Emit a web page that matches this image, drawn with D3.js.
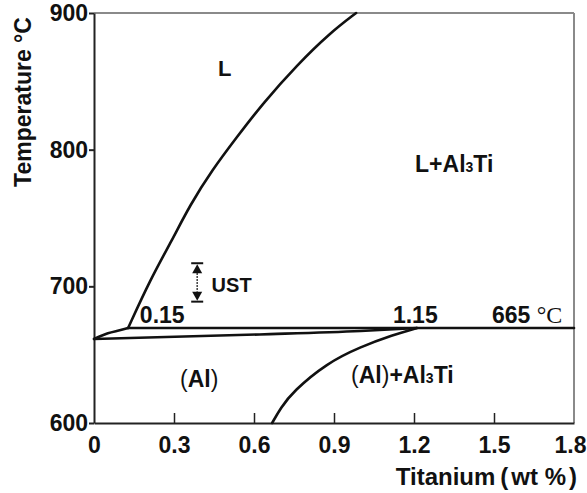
<!DOCTYPE html>
<html>
<head>
<meta charset="utf-8">
<script src="https://cdn.jsdelivr.net/npm/d3@7"></script>
<style>
  body { margin: 0; background: #fff; }
  text { font-family: "Liberation Sans", Arial, sans-serif; font-weight: bold; fill: #111; }
</style>
</head>
<body>
<svg id="chart" width="587" height="493"></svg>
<script>
// Phase boundaries: [Ti wt %, temperature °C]
const liquidus = [
  [0.128, 669.5], [0.21, 704.6], [0.293, 733.9], [0.36, 759.5], [0.443, 785.1],
  [0.533, 808.5], [0.634, 834.1], [0.761, 861.9], [0.885, 885.4], [0.983, 900],
];
const liquidusLow = [[0, 661.5], [0.052, 665.6], [0.1, 668.0], [0.128, 669.5]];
const solidus = [[0, 661.5], [0.62, 664.8], [1.0, 667.3], [1.211, 669.5]];
const solvus = [
  [0.668, 600], [0.7, 611], [0.746, 623], [0.874, 643.9], [0.998, 655.6], [1.121, 664.4], [1.211, 669.5],
];
const peritectic = [[0.128, 669.5], [1.8, 669.5]];

const xTicks = [0, 0.3, 0.6, 0.9, 1.2, 1.5, 1.8];
const yTicks = [600, 700, 800, 900];

// UST range marker: x, top temp, bottom temp
const ust = [0.387, 716.9, 688.8];

const margin = { top: 13, right: 13, bottom: 70, left: 94 };
const width = 587 - margin.left - margin.right;
const height = 493 - margin.top - margin.bottom;

const svg = d3.select("#chart");
const root = svg.append("g").attr("transform", `translate(${margin.left},${margin.top})`);

const x = d3.scaleLinear().domain([0, 1.8]).range([0, width]);
const y = d3.scaleLinear().domain([600, 900]).range([height, 0]);

// Frame: top/right grey, left/bottom dark
root.append("line").attr("x1", 0).attr("x2", width).attr("y1", 0).attr("y2", 0)
  .attr("stroke", "#8a8a8a").attr("stroke-width", 2);
root.append("line").attr("x1", width).attr("x2", width).attr("y1", 0).attr("y2", height)
  .attr("stroke", "#8a8a8a").attr("stroke-width", 2);

// Y axis, ticks outside
const yAxis = root.append("g").call(d3.axisLeft(y).tickValues(yTicks).tickSize(5).tickSizeOuter(0).tickPadding(1));
yAxis.select(".domain").attr("stroke", "#222").attr("stroke-width", 2);
yAxis.selectAll(".tick line").attr("stroke", "#222").attr("stroke-width", 2);
yAxis.selectAll(".tick text").attr("font-size", 23).attr("font-family", null).attr("fill", "#111");

// X axis, ticks inside
const xAxis = root.append("g").attr("transform", `translate(0,${height})`)
  .call(d3.axisBottom(x).tickValues(xTicks).tickSize(-10).tickSizeOuter(0).tickPadding(14)
    .tickFormat((d) => (d === 0 ? "0" : d3.format(".1f")(d))));
xAxis.select(".domain").attr("stroke", "#222").attr("stroke-width", 2);
xAxis.selectAll(".tick line").attr("stroke", "#222").attr("stroke-width", 1.5)
  .attr("opacity", (d) => (d === 0 || d === 1.8 ? 0 : 1));
xAxis.selectAll(".tick text").attr("font-size", 23).attr("font-family", null)
  .attr("fill", (d) => (d === 0 ? "#3f4a57" : "#111"));
// last label sits at the window edge; keep it inside
xAxis.selectAll(".tick text").filter((d) => d === 1.8).attr("text-anchor", "end").attr("x", 12);

// Axis titles
svg.append("text")
  .attr("transform", "translate(31,102) rotate(-90)")
  .attr("text-anchor", "middle")
  .attr("font-size", 23)
  .text("Temperature °C");
const xt = svg.append("text")
  .attr("x", 577).attr("y", 485)
  .attr("text-anchor", "end")
  .attr("font-size", 24);
xt.append("tspan").text("Titanium");
xt.append("tspan").attr("dx", 5).text("(");
xt.append("tspan").attr("dx", 3).text("wt %");
xt.append("tspan").attr("dx", 3).text(")");

// Phase boundaries
const smooth = d3.line().x((d) => x(d[0])).y((d) => y(d[1])).curve(d3.curveBasis);
const mono = d3.line().x((d) => x(d[0])).y((d) => y(d[1])).curve(d3.curveMonotoneX);
[[liquidus, smooth], [liquidusLow, mono], [solidus, mono], [solvus, smooth], [peritectic, mono]]
  .forEach(([pts, gen]) => {
    root.append("path").datum(pts).attr("d", gen)
      .attr("fill", "none").attr("stroke", "#111").attr("stroke-width", 2.6)
      .attr("stroke-linecap", "round");
  });

// UST marker
const ux = x(ust[0]);
const uTop = y(ust[1]);
const uBot = y(ust[2]);
const marker = root.append("g").attr("stroke", "#111").attr("fill", "#111");
marker.append("line").attr("x1", ux - 6).attr("x2", ux + 6).attr("y1", uTop).attr("y2", uTop).attr("stroke-width", 2);
marker.append("line").attr("x1", ux - 6).attr("x2", ux + 6).attr("y1", uBot).attr("y2", uBot).attr("stroke-width", 2);
marker.append("path").attr("stroke", "none")
  .attr("d", `M${ux},${uTop + 1}L${ux - 5},${uTop + 10}L${ux + 5},${uTop + 10}Z`);
marker.append("path").attr("stroke", "none")
  .attr("d", `M${ux},${uBot - 1}L${ux - 5},${uBot - 10}L${ux + 5},${uBot - 10}Z`);
marker.append("line").attr("x1", ux).attr("x2", ux).attr("y1", uTop + 10).attr("y2", uBot - 10)
  .attr("stroke-width", 1.6).attr("stroke-dasharray", "1.5,1.5");

// Labels (anchored in data units)
const label = (t, T, size, anchor = "start") =>
  root.append("text").attr("x", x(t)).attr("y", y(T)).attr("font-size", size).attr("text-anchor", anchor);

label(0.49, 854, 22, "middle").text("L");

const lal = label(1.204, 784, 23);
lal.append("tspan").text("L+Al");
lal.append("tspan").attr("font-size", 14).text("3");
lal.append("tspan").text("Ti");

label(0.441, 696, 20).text("UST");
label(0.172, 673.4, 23).text("0.15");
label(1.121, 673.4, 23).text("1.15");

const t665 = label(1.4925, 673.4, 23);
t665.append("tspan").text("665 ");
t665.append("tspan").attr("font-family", "'Liberation Serif', 'Times New Roman', serif")
  .attr("font-weight", "normal").attr("font-size", 24).text("°C");

const al = label(0.3225, 626.6, 23);
al.append("tspan").attr("font-weight", "normal").text("(");
al.append("tspan").text("Al");
al.append("tspan").attr("font-weight", "normal").text(")");

const alt = label(0.964, 629.3, 23);
alt.append("tspan").attr("font-weight", "normal").text("(");
alt.append("tspan").text("Al");
alt.append("tspan").attr("font-weight", "normal").text(")");
alt.append("tspan").text("+Al");
alt.append("tspan").attr("font-size", 14).text("3");
alt.append("tspan").text("Ti");
</script>
</body>
</html>
